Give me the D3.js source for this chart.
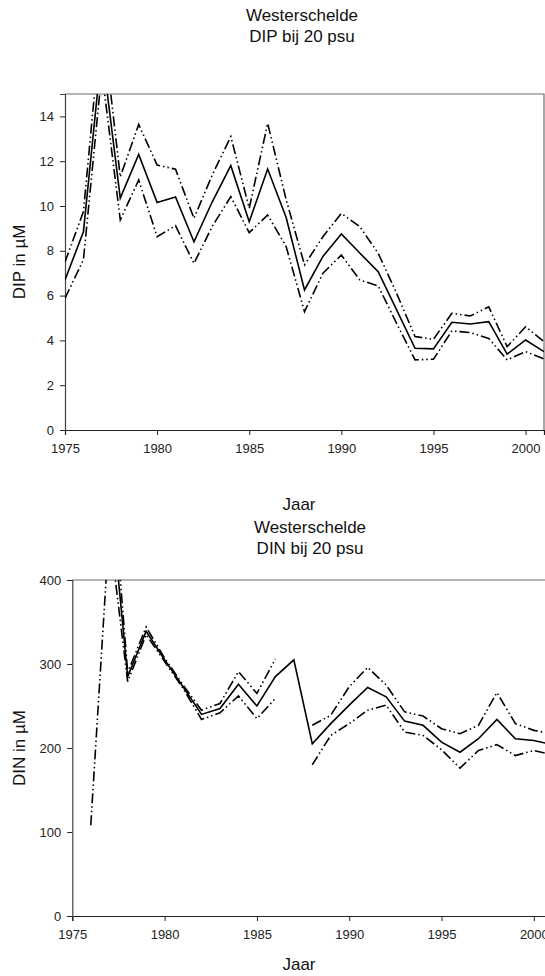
<!DOCTYPE html>
<html>
<head>
<meta charset="utf-8">
<script src="https://cdn.jsdelivr.net/npm/d3@7"></script>
<style>
  body { margin: 0; background: #fff; }
  svg { display: block; font-family: Arial, "Liberation Sans", sans-serif; }
  .tick text { font-size: 13px; fill: #222; }
  .lbl { font-size: 17px; fill: #111; }
</style>
</head>
<body>
<svg id="chart" width="545" height="976"></svg>
<script>
// DIP bij 20 psu (uM)
var dipYears = [1975, 1976, 1977, 1978, 1979, 1980, 1981, 1982, 1983, 1984, 1985, 1986, 1987,
                1988, 1989, 1990, 1991, 1992, 1993, 1994, 1995, 1996, 1997, 1998, 1999, 2000, 2001];
var dipMean  = [6.7, 8.85, 17.0, 10.35, 12.3, 10.15, 10.4, 8.4, 10.2, 11.8, 9.3, 11.65, 9.5,
                6.25, 7.75, 8.75, 7.9, 7.07, 5.36, 3.65, 3.62, 4.81, 4.73, 4.84, 3.39, 4.02, 3.5];
var dipUpper = [7.5, 9.75, 18.5, 11.3, 13.64, 11.83, 11.64, 9.45, 11.4, 13.1, 9.9, 13.69, 10.3,
                7.37, 8.63, 9.67, 9.08, 7.89, 6.1, 4.17, 4.05, 5.21, 5.09, 5.5, 3.72, 4.61, 3.94];
var dipLower = [5.88, 7.6, 16.0, 9.38, 11.16, 8.63, 9.12, 7.44, 9.1, 10.42, 8.81, 9.6, 8.2,
                5.28, 7.0, 7.81, 6.7, 6.43, 4.76, 3.13, 3.16, 4.42, 4.35, 4.09, 3.13, 3.5, 3.17];
var dipTicks = [0, 2, 4, 6, 8, 10, 12, 14];

// DIN bij 20 psu (uM), null = no value
var dinYears = [1976, 1977, 1978, 1979, 1980, 1981, 1982, 1983, 1984, 1985, 1986, 1987, 1988,
                1989, 1990, 1991, 1992, 1993, 1994, 1995, 1996, 1997, 1998, 1999, 2000, 2001];
var dinMean  = [null, 515, 285, 339, 305, 273, 240, 247, 276, 250, 285, 305, 205,
                229, 251, 272, 261, 232, 227, 207, 195, 211, 234, 211, 209, 204];
var dinUpper = [null, 567, 290, 344, 307, 275, 245, 253, 291, 265, 306, null, 227,
                239, 273, 296, 275, 243, 238, 223, 217, 227, 266, 229, 221, 217];
var dinLower = [108, 460, 279, 335, 303, 271, 234, 242, 262, 235, 259, null, 180,
                215, 229, 245, 251, 219, 215, 198, 176, 197, 204, 191, 197, 192];
var dinTicks = [0, 100, 200, 300, 400];

var yearTicks = [1975, 1980, 1985, 1990, 1995, 2000];
var yearDomain = [1975, 2001];

var svg = d3.select("#chart");

function panel(id, box, yMax, yTicks, years, series, title, yLabel, jaarY) {
    var g = svg.append("g");

    var x = d3.scaleLinear().domain(yearDomain).range([box.left, box.right]);
    var y = d3.scaleLinear().domain([0, yMax]).range([box.bottom, box.top]);

    g.append("clipPath").attr("id", id)
        .append("rect")
        .attr("x", box.left).attr("y", box.top)
        .attr("width", box.right - box.left).attr("height", box.bottom - box.top);

    // frame (top and right)
    g.append("path")
        .attr("d", "M" + box.left + "," + box.top + "H" + box.right + "V" + box.bottom)
        .attr("fill", "none").attr("stroke", "#6e6e6e").attr("stroke-width", 1.2);

    var xAxis = d3.axisBottom(x).tickValues(yearTicks).tickFormat(d3.format("d"))
        .tickSize(5).tickPadding(9);
    var yAxis = d3.axisLeft(y).tickValues(yTicks).tickSize(5).tickPadding(6);

    g.append("g").attr("transform", "translate(0," + box.bottom + ")").call(xAxis)
        .attr("font-family", null).attr("font-size", null)
        .call(function(a) { a.select(".domain").attr("stroke", "#222").attr("stroke-width", 1.2); });
    g.append("g").attr("transform", "translate(" + box.left + ",0)").call(yAxis)
        .attr("font-family", null).attr("font-size", null)
        .call(function(a) { a.select(".domain").attr("stroke", "#444").attr("stroke-width", 1.2); });
    g.selectAll(".tick line").attr("stroke", "#222");

    var lines = g.append("g").attr("clip-path", "url(#" + id + ")");
    series.forEach(function(s) {
        var line = d3.line()
            .defined(function(d) { return d[1] !== null; })
            .x(function(d) { return x(d[0]); })
            .y(function(d) { return y(d[1]); });
        lines.append("path")
            .datum(years.map(function(yr, i) { return [yr, s.values[i]]; }))
            .attr("d", line)
            .attr("fill", "none")
            .attr("stroke", "#000")
            .attr("stroke-width", 1.6)
            .attr("stroke-dasharray", s.dash);
    });

    // titles
    var t = g.append("text").attr("class", "lbl").attr("text-anchor", "middle");
    t.append("tspan").attr("x", title.x).attr("y", title.y).text(title.lines[0]);
    t.append("tspan").attr("x", title.x).attr("y", title.y + 21).text(title.lines[1]);

    g.append("text").attr("class", "lbl").attr("text-anchor", "middle")
        .attr("x", 299).attr("y", jaarY).text("Jaar");

    g.append("text").attr("class", "lbl").attr("text-anchor", "middle")
        .attr("transform", "translate(25," + ((box.top + box.bottom) / 2) + ") rotate(-90)")
        .text(yLabel);
}

var dashDotDot = "10,3,1.5,3,1.5,3";

panel("clipDip", {left: 65, right: 544, top: 94, bottom: 430}, 15, dipTicks, dipYears, [
    {values: dipUpper, dash: dashDotDot},
    {values: dipLower, dash: dashDotDot},
    {values: dipMean, dash: null}
], {x: 302, y: 21, lines: ["Westerschelde", "DIP bij 20 psu"]}, "DIP in \u00b5M", 510);

panel("clipDin", {left: 72.3, right: 552.3, top: 580, bottom: 916}, 400, dinTicks, dinYears, [
    {values: dinUpper, dash: dashDotDot},
    {values: dinLower, dash: dashDotDot},
    {values: dinMean, dash: null}
], {x: 310, y: 533, lines: ["Westerschelde", "DIN bij 20 psu"]}, "DIN in \u00b5M", 970);
</script>
</body>
</html>
